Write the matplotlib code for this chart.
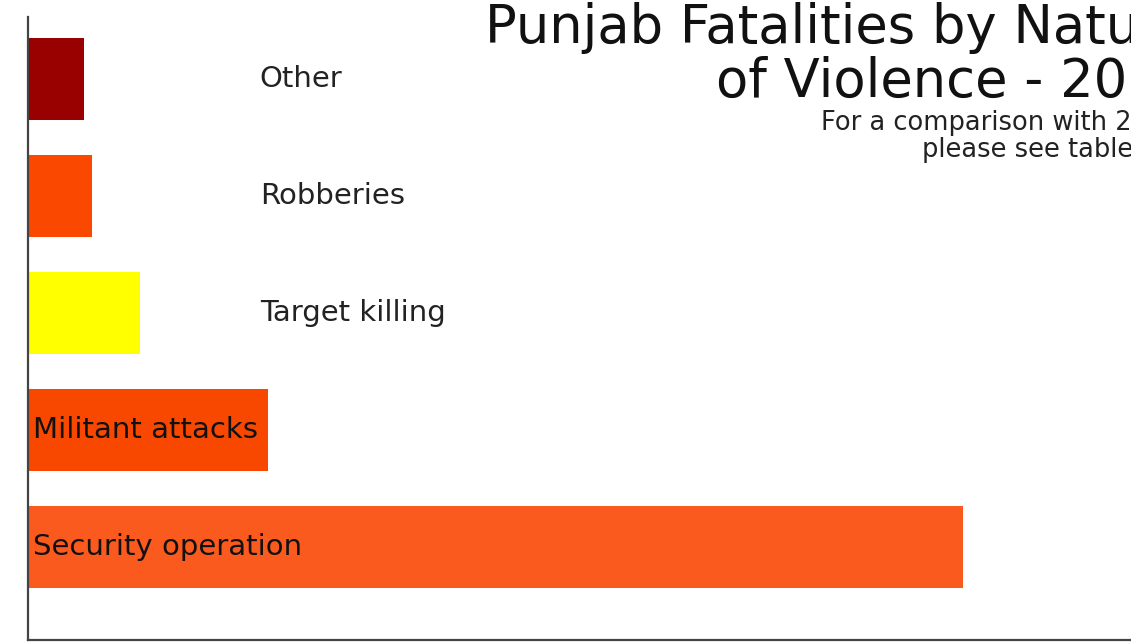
import matplotlib.pyplot as plt

# Fatalities by nature of violence
categories = ["Other", "Robberies", "Target killing", "Militant attacks", "Security operation"]
fatalities = [14, 16, 28, 60, 234]
bar_colors = ["#990000", "#FA4800", "#FFFF00", "#F84800", "#FA5A1E"]
label_inside = [False, False, False, True, True]

title_lines = ["Punjab Fatalities by Nature", "of Violence - 2013"]
subtitle_lines = ["For a comparison with 2012", "please see table"]

plt.rcParams['font.family'] = ['DejaVu Sans']

fig = plt.figure(figsize=(11.31, 6.42), dpi=100)
ax = fig.add_axes([28 / 1131, 2 / 642, 1 - 28 / 1131, 623 / 642])

ypos = list(range(len(categories)))[::-1]
ax.barh(ypos, fatalities, height=0.70, color=bar_colors, edgecolor='none')

for y, name, val, inside in zip(ypos, categories, fatalities, label_inside):
    if inside:
        ax.text(1.2, y, name, va='center', ha='left', fontsize=21, color='#111111')
    else:
        ax.text(58, y, name, va='center', ha='left', fontsize=21, color='#222222')

ax.set_xlim(0, 276)
ax.set_ylim(-0.795, 4.53)
ax.set_xticks([])
ax.set_yticks([])
for side in ['top', 'right']:
    ax.spines[side].set_visible(False)
for side in ['left', 'bottom']:
    ax.spines[side].set_color('#444444')
    ax.spines[side].set_linewidth(1.6)

# title is cut off by the right edge of the canvas, as in the source image
fig.text(485 / 1131, 1 - 28 / 642, title_lines[0], fontsize=38, va='center', ha='left', color='#111111')
fig.text(716 / 1131, 1 - 82 / 642, title_lines[1], fontsize=38, va='center', ha='left', color='#111111')
fig.text(821 / 1131, 1 - 123 / 642, subtitle_lines[0], fontsize=18.5, va='center', ha='left', color='#222222')
fig.text(922 / 1131, 1 - 150 / 642, subtitle_lines[1], fontsize=18.5, va='center', ha='left', color='#222222')

fig.savefig("out.png", dpi=100)
